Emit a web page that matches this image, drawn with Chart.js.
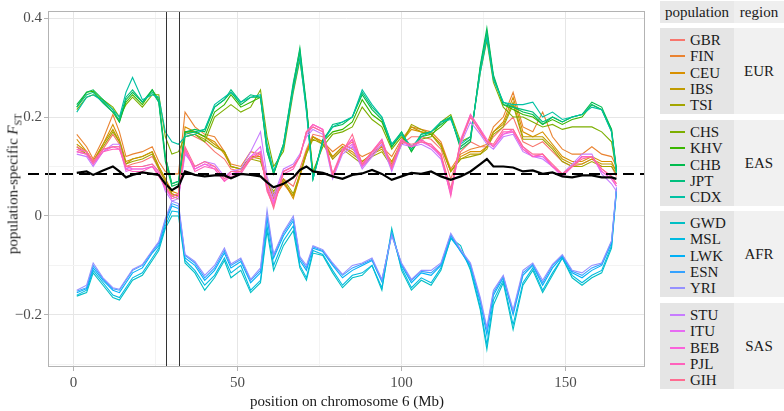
<!DOCTYPE html>
<html>
<head>
<meta charset="utf-8">
<script src="https://cdn.jsdelivr.net/npm/chart.js@4.4.1/dist/chart.umd.min.js"></script>
<style>
  body { margin: 0; background: #fff; font-family: "Liberation Serif", "Times New Roman", Times, "DejaVu Serif", serif; color: #1a1a1a; }
  #wrap { position: relative; width: 784px; height: 411px; overflow: hidden; }
  #plot { position: absolute; left: 0; top: 0; width: 650px; height: 411px; }
  .ytitle { position: absolute; left: 14px; top: 184px; transform: translate(-50%, -50%) rotate(-90deg); white-space: nowrap; font-size: 15px; }
  .ytitle sub { font-size: 10px; font-style: normal; }
  .xtitle { position: absolute; left: 347px; top: 401px; transform: translate(-50%, -50%); white-space: nowrap; font-size: 15px; }
  .cell { position: absolute; }
  .txt { position: absolute; font-size: 15px; line-height: 16px; white-space: nowrap; }
  .key { position: absolute; height: 2px; width: 15px; }
</style>
</head>
<body>
<div id="wrap">
  <div id="plot"><canvas id="fstChart"></canvas></div>
  <div class="ytitle">population-specific <i>F</i><sub>ST</sub></div>
  <div class="xtitle">position on chromosome 6 (Mb)</div>
  <div id="legend"></div>
</div>
<script>
// positions on chromosome 6 (Mb) where the curves were read
var positions = [1,4,6,9,12,14,16,18,21,24,26,28,30,32,34,37,40,43,46,48,51,54,57,59,61,64,67,69,71,73,76,79,82,85,88,91,94,97,100,103,106,109,112,115,118,121,124,126,128,131,134,137,140,143,146,149,152,155,158,161,164,165.5];

// EUR
var gbr = [0.135,0.125,0.105,0.135,0.165,0.145,0.1,0.105,0.11,0.12,0.095,0.07,0.045,0.04,0.17,0.16,0.15,0.13,0.115,0.095,0.09,0.115,0.13,0.06,0.025,0.075,0.06,0.095,0.135,0.165,0.16,0.115,0.135,0.15,0.1,0.12,0.145,0.1,0.145,0.16,0.16,0.155,0.135,0.075,0.13,0.15,0.14,0.14,0.16,0.18,0.2,0.15,0.14,0.15,0.13,0.11,0.1,0.105,0.115,0.1,0.1,0.08];
var fin = [0.165,0.14,0.115,0.155,0.205,0.17,0.12,0.125,0.13,0.14,0.11,0.09,0.085,0.085,0.21,0.18,0.165,0.16,0.13,0.105,0.1,0.13,0.125,0.075,0.035,0.065,0.04,0.08,0.125,0.16,0.15,0.13,0.145,0.135,0.12,0.13,0.14,0.12,0.155,0.18,0.175,0.17,0.15,0.095,0.125,0.135,0.14,0.145,0.18,0.2,0.25,0.18,0.17,0.21,0.16,0.135,0.125,0.125,0.14,0.125,0.12,0.1];
var ceu = [0.155,0.13,0.11,0.145,0.185,0.155,0.11,0.115,0.12,0.13,0.1,0.075,0.05,0.045,0.18,0.17,0.16,0.15,0.125,0.1,0.095,0.12,0.12,0.065,0.04,0.07,0.035,0.08,0.13,0.16,0.15,0.12,0.14,0.13,0.11,0.125,0.14,0.11,0.15,0.175,0.17,0.165,0.145,0.09,0.12,0.13,0.13,0.14,0.17,0.19,0.24,0.17,0.16,0.17,0.145,0.12,0.11,0.11,0.12,0.11,0.11,0.09];
var ibs = [0.145,0.13,0.11,0.145,0.175,0.15,0.105,0.115,0.12,0.13,0.1,0.075,0.045,0.04,0.17,0.17,0.16,0.145,0.13,0.1,0.095,0.12,0.115,0.065,0.045,0.07,0.04,0.085,0.13,0.16,0.145,0.12,0.14,0.125,0.11,0.125,0.135,0.105,0.15,0.18,0.17,0.165,0.145,0.09,0.115,0.125,0.125,0.14,0.17,0.185,0.23,0.16,0.16,0.16,0.14,0.115,0.105,0.105,0.115,0.105,0.105,0.09];
var tsi = [0.14,0.125,0.11,0.14,0.17,0.15,0.105,0.11,0.115,0.125,0.095,0.07,0.04,0.035,0.16,0.165,0.155,0.14,0.13,0.1,0.095,0.115,0.11,0.07,0.05,0.075,0.045,0.085,0.125,0.155,0.145,0.115,0.135,0.12,0.105,0.12,0.13,0.1,0.145,0.185,0.175,0.165,0.14,0.09,0.115,0.12,0.125,0.135,0.165,0.18,0.225,0.155,0.155,0.155,0.135,0.11,0.1,0.1,0.11,0.1,0.1,0.085];
// EAS
var chs = [0.215,0.24,0.245,0.235,0.22,0.2,0.225,0.24,0.22,0.245,0.245,0.16,0.125,0.13,0.16,0.165,0.15,0.2,0.215,0.225,0.21,0.22,0.255,0.16,0.1,0.13,0.25,0.315,0.22,0.09,0.14,0.165,0.17,0.18,0.22,0.195,0.18,0.135,0.16,0.14,0.155,0.16,0.19,0.205,0.15,0.16,0.29,0.355,0.27,0.22,0.2,0.2,0.19,0.18,0.185,0.175,0.18,0.18,0.18,0.17,0.15,0.09];
var khv = [0.22,0.25,0.252,0.23,0.21,0.19,0.23,0.245,0.225,0.255,0.235,0.12,0.065,0.07,0.17,0.17,0.16,0.21,0.225,0.245,0.22,0.23,0.24,0.14,0.085,0.14,0.26,0.33,0.22,0.08,0.15,0.17,0.175,0.19,0.235,0.205,0.19,0.14,0.165,0.13,0.16,0.165,0.18,0.2,0.14,0.155,0.3,0.37,0.28,0.225,0.215,0.205,0.2,0.185,0.195,0.185,0.195,0.2,0.225,0.215,0.175,0.09];
var chb = [0.225,0.25,0.255,0.235,0.215,0.19,0.235,0.25,0.23,0.255,0.23,0.11,0.06,0.065,0.17,0.175,0.17,0.22,0.235,0.25,0.225,0.24,0.24,0.13,0.085,0.145,0.265,0.34,0.225,0.075,0.155,0.18,0.185,0.2,0.245,0.215,0.195,0.14,0.17,0.13,0.165,0.17,0.185,0.2,0.135,0.15,0.305,0.38,0.285,0.225,0.22,0.21,0.205,0.185,0.2,0.19,0.2,0.205,0.23,0.22,0.175,0.095];
var jpt = [0.22,0.245,0.25,0.228,0.21,0.195,0.24,0.255,0.23,0.25,0.23,0.12,0.065,0.07,0.165,0.17,0.175,0.22,0.235,0.255,0.23,0.245,0.24,0.13,0.09,0.145,0.27,0.335,0.215,0.075,0.15,0.185,0.19,0.2,0.25,0.22,0.2,0.145,0.17,0.135,0.165,0.17,0.19,0.2,0.14,0.155,0.3,0.37,0.28,0.23,0.22,0.215,0.21,0.19,0.2,0.19,0.2,0.205,0.225,0.215,0.17,0.09];
var cdx = [0.21,0.24,0.245,0.232,0.215,0.2,0.25,0.28,0.235,0.245,0.24,0.17,0.15,0.145,0.16,0.165,0.175,0.225,0.24,0.25,0.23,0.24,0.245,0.145,0.09,0.14,0.255,0.32,0.21,0.075,0.15,0.18,0.19,0.2,0.255,0.225,0.2,0.145,0.165,0.14,0.16,0.17,0.19,0.195,0.145,0.16,0.29,0.36,0.275,0.23,0.225,0.225,0.23,0.2,0.21,0.195,0.2,0.205,0.22,0.215,0.17,0.085];
// AFR
var gwd = [-0.162,-0.155,-0.115,-0.14,-0.165,-0.17,-0.15,-0.13,-0.12,-0.09,-0.07,-0.025,0.0,0.0,-0.095,-0.115,-0.15,-0.125,-0.09,-0.125,-0.11,-0.155,-0.135,-0.03,-0.11,-0.06,-0.03,-0.105,-0.13,-0.075,-0.08,-0.115,-0.145,-0.125,-0.12,-0.1,-0.15,-0.025,-0.11,-0.15,-0.13,-0.14,-0.11,-0.045,-0.06,-0.11,-0.19,-0.27,-0.18,-0.135,-0.23,-0.14,-0.11,-0.155,-0.12,-0.085,-0.125,-0.14,-0.125,-0.115,-0.065,0.05];
var msl = [-0.16,-0.15,-0.11,-0.135,-0.16,-0.165,-0.145,-0.125,-0.115,-0.085,-0.065,-0.02,0.01,0.008,-0.09,-0.11,-0.14,-0.12,-0.085,-0.115,-0.1,-0.15,-0.13,-0.02,-0.1,-0.05,-0.02,-0.1,-0.125,-0.07,-0.078,-0.11,-0.14,-0.12,-0.115,-0.1,-0.145,-0.035,-0.105,-0.145,-0.125,-0.135,-0.105,-0.045,-0.07,-0.105,-0.185,-0.26,-0.17,-0.13,-0.22,-0.135,-0.105,-0.15,-0.115,-0.085,-0.12,-0.135,-0.12,-0.11,-0.06,0.052];
var lwk = [-0.155,-0.147,-0.105,-0.13,-0.15,-0.155,-0.135,-0.115,-0.105,-0.075,-0.06,-0.013,0.02,0.015,-0.085,-0.1,-0.13,-0.11,-0.075,-0.105,-0.092,-0.135,-0.115,-0.005,-0.085,-0.04,-0.01,-0.09,-0.11,-0.065,-0.072,-0.1,-0.125,-0.11,-0.1,-0.09,-0.133,-0.035,-0.1,-0.135,-0.115,-0.12,-0.1,-0.04,-0.072,-0.1,-0.175,-0.24,-0.16,-0.125,-0.2,-0.12,-0.1,-0.14,-0.105,-0.082,-0.115,-0.125,-0.11,-0.1,-0.055,0.055];
var esn = [-0.152,-0.145,-0.1,-0.127,-0.147,-0.15,-0.13,-0.11,-0.1,-0.072,-0.055,-0.008,0.025,0.02,-0.08,-0.095,-0.125,-0.105,-0.07,-0.1,-0.088,-0.13,-0.11,0.0,-0.08,-0.035,-0.005,-0.085,-0.105,-0.062,-0.07,-0.097,-0.12,-0.105,-0.097,-0.088,-0.13,-0.035,-0.098,-0.13,-0.112,-0.115,-0.098,-0.038,-0.07,-0.098,-0.17,-0.23,-0.155,-0.122,-0.195,-0.115,-0.098,-0.135,-0.1,-0.08,-0.112,-0.12,-0.105,-0.097,-0.052,0.056];
var yri = [-0.15,-0.14,-0.095,-0.125,-0.145,-0.148,-0.128,-0.108,-0.098,-0.07,-0.052,-0.005,0.03,0.025,-0.078,-0.092,-0.12,-0.1,-0.065,-0.097,-0.085,-0.128,-0.105,0.012,-0.078,-0.032,0.0,-0.082,-0.1,-0.06,-0.068,-0.095,-0.118,-0.1,-0.095,-0.085,-0.128,-0.04,-0.095,-0.128,-0.11,-0.11,-0.095,-0.035,-0.068,-0.095,-0.165,-0.225,-0.15,-0.12,-0.19,-0.11,-0.095,-0.13,-0.098,-0.078,-0.11,-0.115,-0.1,-0.095,-0.05,0.058];
// SAS
var stu = [0.125,0.12,0.1,0.13,0.145,0.145,0.095,0.1,0.1,0.105,0.09,0.05,0.03,0.035,0.125,0.1,0.11,0.105,0.08,0.09,0.095,0.13,0.17,0.08,0.04,0.095,0.105,0.125,0.16,0.175,0.165,0.075,0.125,0.14,0.095,0.12,0.145,0.09,0.145,0.14,0.145,0.135,0.115,0.045,0.145,0.19,0.165,0.145,0.135,0.16,0.165,0.13,0.12,0.115,0.1,0.085,0.105,0.125,0.125,0.085,0.065,0.05];
var itu = [0.13,0.125,0.105,0.13,0.14,0.14,0.09,0.095,0.095,0.1,0.085,0.055,0.035,0.04,0.13,0.095,0.105,0.1,0.075,0.085,0.09,0.12,0.14,0.065,0.03,0.09,0.1,0.12,0.165,0.18,0.17,0.08,0.13,0.145,0.1,0.125,0.15,0.095,0.15,0.14,0.15,0.14,0.12,0.05,0.15,0.2,0.17,0.15,0.14,0.165,0.17,0.135,0.12,0.12,0.1,0.08,0.1,0.12,0.12,0.09,0.075,0.06];
var beb = [0.135,0.13,0.11,0.135,0.14,0.135,0.1,0.095,0.095,0.1,0.085,0.055,0.04,0.045,0.135,0.095,0.105,0.095,0.07,0.085,0.09,0.12,0.13,0.055,0.025,0.09,0.1,0.12,0.17,0.185,0.175,0.085,0.135,0.155,0.1,0.13,0.155,0.1,0.155,0.14,0.15,0.145,0.12,0.045,0.155,0.205,0.175,0.155,0.14,0.165,0.175,0.14,0.12,0.125,0.1,0.08,0.1,0.12,0.12,0.09,0.075,0.06];
var pjl = [0.13,0.125,0.105,0.13,0.135,0.135,0.095,0.09,0.09,0.1,0.08,0.06,0.035,0.04,0.135,0.09,0.1,0.095,0.07,0.08,0.085,0.115,0.125,0.05,0.02,0.085,0.095,0.12,0.17,0.185,0.175,0.08,0.13,0.155,0.105,0.13,0.155,0.095,0.155,0.14,0.155,0.14,0.125,0.04,0.15,0.205,0.175,0.15,0.14,0.17,0.17,0.135,0.12,0.125,0.1,0.085,0.1,0.12,0.12,0.095,0.08,0.065];
var gih = [0.14,0.13,0.11,0.135,0.14,0.14,0.1,0.1,0.1,0.105,0.09,0.06,0.04,0.045,0.14,0.1,0.11,0.1,0.075,0.09,0.09,0.115,0.125,0.055,0.015,0.09,0.1,0.12,0.17,0.18,0.17,0.085,0.13,0.165,0.105,0.13,0.15,0.1,0.15,0.145,0.15,0.145,0.125,0.055,0.15,0.2,0.17,0.15,0.145,0.175,0.175,0.14,0.125,0.125,0.105,0.085,0.1,0.115,0.12,0.095,0.08,0.065];
// genome-wide windowed mean (black line)
var meanFst = [0.087,0.09,0.083,0.092,0.1,0.09,0.078,0.083,0.088,0.085,0.083,0.065,0.052,0.06,0.09,0.083,0.08,0.082,0.082,0.076,0.085,0.083,0.08,0.068,0.058,0.065,0.078,0.093,0.1,0.09,0.087,0.08,0.075,0.083,0.086,0.093,0.085,0.073,0.08,0.087,0.085,0.09,0.08,0.073,0.08,0.09,0.105,0.115,0.1,0.1,0.098,0.09,0.092,0.085,0.088,0.08,0.078,0.082,0.082,0.078,0.078,0.075];

var popNames = ['GBR','FIN','CEU','IBS','TSI','CHS','KHV','CHB','JPT','CDX','GWD','MSL','LWK','ESN','YRI','STU','ITU','BEB','PJL','GIH'];
var popSeries = [gbr, fin, ceu, ibs, tsi, chs, khv, chb, jpt, cdx, gwd, msl, lwk, esn, yri, stu, itu, beb, pjl, gih];
var popColors = ['#F8766D','#EA8331','#D89000','#C09B00','#A3A500','#7CAE00','#39B600','#00BB4E','#00BF7D','#00C1A3','#00BFC4','#00BAE0','#00B0F6','#35A2FF','#9590FF','#C77CFF','#E76BF3','#FA62DB','#FF62BC','#FF6C91'];
var regionNames = ['EUR','EAS','AFR','SAS'];

var overallFst = 0.085;       // dashed line
var hlaBounds = [28.2, 32.3]; // vertical lines

var xTicks = [0, 25, 50, 75, 100, 125, 150];
var yTicks = [-0.3, -0.2, -0.1, 0, 0.1, 0.2, 0.3, 0.4];

var serif = '"Liberation Serif", "Times New Roman", Times, "DejaVu Serif", serif';

popSeries.concat([meanFst]).forEach(function (s, i) {
  if (s.length !== positions.length) throw new Error('series ' + i + ' has ' + s.length + ' values');
});

function toPoints(vals) {
  return vals.map(function (v, i) { return { x: positions[i], y: v }; });
}

var datasets = popSeries.map(function (s, i) {
  return {
    label: popNames[i],
    data: toPoints(s),
    borderColor: popColors[i],
    borderWidth: 1.1,
    pointRadius: 0,
    tension: 0,
    order: 100 - i
  };
});
datasets.push({
  label: 'mean',
  data: toPoints(meanFst),
  borderColor: '#000000',
  borderWidth: 2.2,
  pointRadius: 0,
  tension: 0,
  order: 0
});

var panelPlugin = {
  id: 'panel',
  afterDatasetsDraw: function (chart) {
    var ctx = chart.ctx, a = chart.chartArea;
    var xs = chart.scales.x, ys = chart.scales.y;
    ctx.save();
    ctx.strokeStyle = '#333333';
    ctx.lineWidth = 1;
    hlaBounds.forEach(function (b) {
      var px = Math.round(xs.getPixelForValue(b)) + 0.5;
      ctx.beginPath(); ctx.moveTo(px, a.top); ctx.lineTo(px, a.bottom); ctx.stroke();
    });
    var py = ys.getPixelForValue(overallFst);
    ctx.strokeStyle = '#000000';
    ctx.lineWidth = 2;
    ctx.setLineDash([11, 6]);
    ctx.beginPath(); ctx.moveTo(a.left - 20, py); ctx.lineTo(a.right, py); ctx.stroke();
    ctx.setLineDash([]);
    ctx.strokeStyle = '#b3b3b3';
    ctx.lineWidth = 1;
    ctx.strokeRect(a.left + 0.5, a.top + 0.5, a.right - a.left - 1, a.bottom - a.top - 1);
    ctx.restore();
  }
};

function isMajor(v, step) {
  return Math.abs(Math.round(v / step) * step - v) < 1e-6;
}

new Chart(document.getElementById('fstChart'), {
  type: 'line',
  data: { datasets: datasets },
  options: {
    responsive: true,
    maintainAspectRatio: false,
    animation: false,
    layout: { padding: { top: 1, right: 5, left: 0, bottom: 0 } },
    plugins: { legend: { display: false }, tooltip: { enabled: false } },
    scales: {
      x: {
        type: 'linear',
        min: -7.77,
        max: 174.2,
        afterBuildTicks: function (scale) { scale.ticks = xTicks.map(function (v) { return { value: v }; }); },
        afterFit: function (scale) { scale.height = 44; },
        grid: {
          color: function (c) { return isMajor(c.tick.value, 50) ? '#e6e6e6' : '#f3f3f3'; },
          tickColor: function (c) { return isMajor(c.tick.value, 50) ? '#b3b3b3' : 'rgba(0,0,0,0)'; },
          tickLength: 4
        },
        border: { display: false },
        ticks: {
          autoSkip: false,
          maxRotation: 0,
          padding: 3,
          color: '#4d4d4d',
          font: { family: serif, size: 15 },
          callback: function (v) { return isMajor(v, 50) ? String(v) : ''; }
        }
      },
      y: {
        min: -0.3053,
        max: 0.4143,
        afterBuildTicks: function (scale) { scale.ticks = yTicks.map(function (v) { return { value: v }; }); },
        afterFit: function (scale) { scale.width = 48; },
        grid: {
          color: function (c) { return isMajor(c.tick.value, 0.2) ? '#e6e6e6' : '#f3f3f3'; },
          tickColor: function (c) { return isMajor(c.tick.value, 0.2) ? '#b3b3b3' : 'rgba(0,0,0,0)'; },
          tickLength: 4
        },
        border: { display: false },
        ticks: {
          autoSkip: false,
          padding: 2,
          color: '#4d4d4d',
          font: { family: serif, size: 15 },
          callback: function (v) {
            if (!isMajor(v, 0.2)) return '';
            var r = Math.round(v * 10) / 10;
            if (r === 0) return '0';
            return (r < 0 ? '\u2212' : '') + Math.abs(r).toFixed(1);
          }
        }
      }
    }
  },
  plugins: [panelPlugin]
});

// legend drawn as a table at the right
var legend = document.getElementById('legend');
function addCell(left, top, w, h, bg) {
  var d = document.createElement('div');
  d.className = 'cell';
  d.style.left = left + 'px'; d.style.top = top + 'px';
  d.style.width = w + 'px'; d.style.height = h + 'px';
  d.style.background = bg;
  legend.appendChild(d);
}
function addText(left, top, text, center, width) {
  var d = document.createElement('div');
  d.className = 'txt';
  d.textContent = text;
  d.style.left = left + 'px'; d.style.top = (top - 8) + 'px';
  if (center) { d.style.width = width + 'px'; d.style.textAlign = 'center'; }
  legend.appendChild(d);
}
addCell(660, 1, 74, 22, '#e9e9e9');
addCell(734, 1, 50, 22, '#efefef');
addText(660, 12, 'population', true, 74);
addText(734, 12, 'region', true, 50);
regionNames.forEach(function (r, g) {
  var top = Math.round(28 + g * 91.5);
  addCell(660, top, 74, 86, '#e5e5e5');
  addCell(734, top, 50, 86, '#f1f1f1');
  addText(734, top + 43, r, true, 50);
  for (var k = 0; k < 5; k++) {
    var i = g * 5 + k;
    var cy = Math.round(top + 12 + k * 16.3);
    var key = document.createElement('div');
    key.className = 'key';
    key.style.left = '670px';
    key.style.top = (cy - 1) + 'px';
    key.style.background = popColors[i];
    legend.appendChild(key);
    addText(690, cy, popNames[i], false);
  }
});
</script>
</body>
</html>
